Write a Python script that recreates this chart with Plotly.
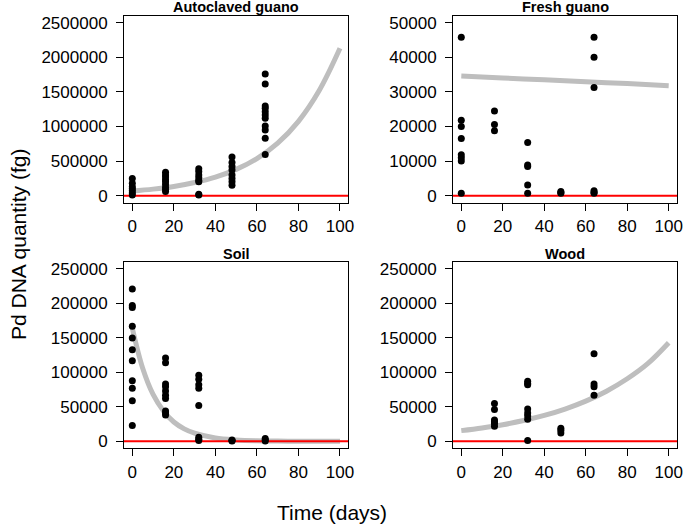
import plotly.graph_objects as go

# ---------------- data ----------------
titles = ["Autoclaved guano", "Fresh guano", "Soil", "Wood"]

# Autoclaved guano
ag_x = [0]*7 + [16]*9 + [32]*8 + [48]*8 + [64]*11
ag_y = [250000, 180000, 130000, 100000, 70000, 40000, 10000,
        340000, 300000, 270000, 230000, 200000, 160000, 120000, 90000, 60000,
        390000, 350000, 300000, 260000, 220000, 200000, 20000, 10000,
        560000, 480000, 420000, 370000, 300000, 250000, 200000, 150000,
        1758000, 1614000, 1296000, 1262000, 1214000, 1166000, 1118000, 1007000, 949000, 829000, 597000]
ag_fit_x = [0, 10, 20, 30, 40, 50, 60, 70, 80, 90, 100]
ag_fit_y = [67000, 95000, 134000, 190000, 268000, 380000, 537000, 760000, 1075000, 1520000, 2130000]

# Fresh guano
fg_x = [0]*8 + [16]*3 + [32]*5 + [48]*3 + [64]*6
fg_y = [45800, 21800, 20000, 16500, 11800, 11000, 10000, 700,
        24500, 20600, 18800,
        15400, 8900, 8400, 3100, 700,
        1200, 700, 900,
        45800, 40000, 31300, 1400, 700, 1000]
fg_fit_x = [0, 20, 40, 60, 80, 100]
fg_fit_y = [34600, 34000, 33500, 32900, 32400, 31800]

# Soil
so_x = [0]*11 + [16]*10 + [32]*8 + [48]*3 + [64]*3
so_y = [221000, 197000, 194000, 167000, 150000, 133000, 117000, 88000, 77000, 59000, 23000,
        121000, 114000, 83000, 79000, 73000, 67000, 62000, 44000, 41000, 38000,
        96000, 90000, 82000, 77000, 52000, 6000, 3000, 1000,
        2000, 1000, 500,
        4000, 2000, 600]
so_fit_x = [0, 5, 10, 15, 20, 25, 30, 40, 50, 60, 70, 80, 90, 100]
so_fit_y = [164000, 106000, 68000, 44000, 28000, 18000, 11700, 4800, 2000, 800, 330, 140, 60, 20]

# Wood
wo_x = [16]*6 + [32]*8 + [48]*3 + [64]*4
wo_y = [55000, 46000, 31000, 28500, 26000, 22000,
        87000, 84000, 82000, 47000, 41000, 37000, 32000, 1000,
        19000, 16000, 12000,
        127000, 83000, 79000, 67000]
wo_fit_x = [0, 10, 20, 30, 40, 50, 60, 70, 80, 90, 100]
wo_fit_y = [15500, 19400, 24100, 30100, 37500, 46800, 58300, 72700, 90700, 113000, 143000]

x_ticks = [0, 20, 40, 60, 80, 100]
y_ticks_top_left = [0, 500000, 1000000, 1500000, 2000000, 2500000]
y_ticks_top_right = [0, 10000, 20000, 30000, 40000, 50000]
y_ticks_bottom = [0, 50000, 100000, 150000, 200000, 250000]

# ---------------- layout ----------------
W, H = 685, 524
FONT = "Liberation Sans, Arial, sans-serif"
XRANGE = [-4, 104]

panels = [
    dict(px=ag_x, py=ag_y, fx=ag_fit_x, fy=ag_fit_y, yticks=y_ticks_top_left,
         xdom=(124, 348.3), ydom=(15.8, 202.6)),
    dict(px=fg_x, py=fg_y, fx=fg_fit_x, fy=fg_fit_y, yticks=y_ticks_top_right,
         xdom=(453, 677), ydom=(15.8, 202.6)),
    dict(px=so_x, py=so_y, fx=so_fit_x, fy=so_fit_y, yticks=y_ticks_bottom,
         xdom=(124, 348.3), ydom=(262.1, 448.2)),
    dict(px=wo_x, py=wo_y, fx=wo_fit_x, fy=wo_fit_y, yticks=y_ticks_bottom,
         xdom=(453, 677), ydom=(262.1, 448.2)),
]

fig = go.Figure()
layout = dict(
    width=W, height=H, margin=dict(l=0, r=0, t=0, b=0, autoexpand=False),
    paper_bgcolor="white", plot_bgcolor="white",
    showlegend=False, font=dict(family=FONT, color="black", size=17),
)
annotations = []

for i, p in enumerate(panels):
    n = "" if i == 0 else str(i + 1)
    xa, ya = "x" + n, "y" + n
    yt = p["yticks"]
    span = yt[-1] - yt[0]
    yr = [yt[0] - 0.04 * span, yt[-1] + 0.04 * span]

    fig.add_trace(go.Scatter(x=p["fx"], y=p["fy"], mode="lines", xaxis=xa, yaxis=ya,
                             line=dict(color="#BEBEBE", width=5, shape="spline", smoothing=1.0),
                             hoverinfo="skip"))
    fig.add_trace(go.Scatter(x=XRANGE, y=[0, 0], mode="lines", xaxis=xa, yaxis=ya,
                             line=dict(color="#FF0000", width=2), hoverinfo="skip"))
    fig.add_trace(go.Scatter(x=p["px"], y=p["py"], mode="markers", xaxis=xa, yaxis=ya,
                             marker=dict(color="black", size=7, line=dict(width=0))))

    x0, x1 = p["xdom"]
    y0, y1 = p["ydom"]
    layout["xaxis" + n] = dict(
        domain=[x0 / W, x1 / W], range=XRANGE, anchor=ya, automargin=False,
        tickmode="array", tickvals=x_ticks, ticktext=[str(v) for v in x_ticks],
        ticks="outside", ticklen=7, tickwidth=1, tickcolor="black", ticklabelstandoff=1,
        showline=True, linecolor="black", linewidth=1, mirror=True,
        showgrid=False, zeroline=False, tickfont=dict(size=17, family=FONT),
    )
    layout["yaxis" + n] = dict(
        domain=[1 - y1 / H, 1 - y0 / H], range=yr, anchor=xa, automargin=False,
        tickmode="array", tickvals=yt, ticktext=[str(v) for v in yt],
        ticks="outside", ticklen=7, tickwidth=1, tickcolor="black", ticklabelstandoff=5,
        showline=True, linecolor="black", linewidth=1, mirror=True,
        showgrid=False, zeroline=False, tickfont=dict(size=17, family=FONT),
    )
    annotations.append(dict(
        text="<b>" + titles[i] + "</b>", xref="paper", yref="paper",
        x=(x0 + x1) / 2 / W, y=1 - (y0 - 8.5) / H, xanchor="center", yanchor="middle",
        showarrow=False, font=dict(size=14.5, family=FONT, color="black"),
    ))

annotations.append(dict(
    text="Pd DNA quantity (fg)", xref="paper", yref="paper",
    x=18 / W, y=1 - 245 / H, xanchor="center", yanchor="middle", textangle=-90,
    showarrow=False, font=dict(size=21, family=FONT, color="black"),
))
annotations.append(dict(
    text="Time (days)", xref="paper", yref="paper",
    x=332 / W, y=1 - 512 / H, xanchor="center", yanchor="middle",
    showarrow=False, font=dict(size=21, family=FONT, color="black"),
))
layout["annotations"] = annotations
fig.update_layout(**layout)
fig.write_html("out.html", config={"displayModeBar": False},
               post_script="document.body.style.margin='0px';document.body.style.overflow='hidden';")
